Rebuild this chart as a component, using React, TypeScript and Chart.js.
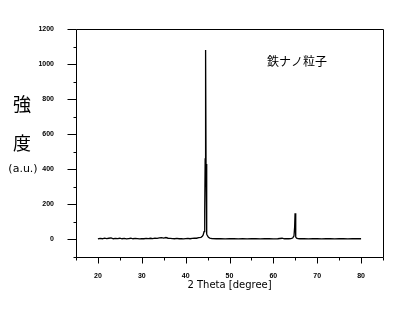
import React, { useEffect, useRef } from 'react';
import { Chart, registerables } from 'chart.js';
Chart.register(...registerables);

const twoTheta = [
  20, 20.5, 21, 21.5, 22, 22.5, 23, 23.5, 24, 24.5, 25, 25.5, 26, 26.5, 27, 27.5, 28, 28.5, 29, 29.5,
  30, 30.5, 31, 31.5, 32, 32.5, 33, 33.5, 34, 34.5, 35, 35.5, 36, 36.5, 37, 37.5, 38, 38.5, 39, 39.5,
  40, 40.5, 41, 41.5, 42, 42.5, 43, 43.5, 43.8, 44.0, 44.2, 44.35, 44.45, 44.55, 44.65, 44.75, 44.85, 45.0,
  45.2, 45.5, 46, 47, 48, 49, 50, 51, 52, 53, 54, 55, 56, 57, 58, 59, 60, 61, 62, 62.5, 63, 63.5, 64, 64.4,
  64.7, 64.85, 64.95, 65.05, 65.15, 65.3, 65.6, 66, 67, 68, 69, 70, 71, 72, 73, 74, 75, 76, 77, 78, 79, 80,
];
const intensity = [
  3, 6, 4, 8, 5, 7, 9, 4, 6, 5, 7, 4, 6, 3, 5, 7, 4, 6, 5, 3,
  5, 4, 6, 5, 7, 5, 8, 6, 9, 10, 8, 11, 7, 6, 5, 4, 6, 4, 5, 3,
  5, 6, 4, 6, 8, 7, 10, 12, 18, 26, 45, 160, 460, 1080, 430, 70, 30, 20,
  12, 8, 5, 4, 4, 3, 4, 4, 3, 4, 3, 4, 4, 3, 4, 4, 3, 4, 7, 4, 5, 4, 5, 8,
  20, 69, 149, 45, 14, 7, 5, 4, 4, 3, 4, 4, 3, 4, 4, 3, 4, 4, 3, 4, 4, 4,
];

const xTicks = [20, 30, 40, 50, 60, 70, 80];
const yTicks = [0, 200, 400, 600, 800, 1000, 1200];
const chartTitle = '鉄ナノ粒子';
const yTitleLines = ['強', '度', '(a.u.)'];
const xTitle = '2 Theta [degree]';

const framePlugin = {
  id: 'frame',
  afterDraw(chart: any) {
    const { ctx, chartArea, scales } = chart;
    const { left, right, top, bottom } = chartArea;
    const x = scales.x;
    const y = scales.y;
    ctx.save();
    ctx.strokeStyle = '#000';
    ctx.lineWidth = 1;
    const L = Math.round(left) + 0.5;
    const R = Math.round(right) + 0.5;
    const T = Math.round(top) + 0.5;
    const B = Math.round(bottom) + 0.5;
    ctx.beginPath();
    ctx.rect(L, T, R - L, B - T);
    ctx.stroke();
    ctx.beginPath();
    for (let v = 15; v <= 85; v += 5) {
      const px = Math.round(x.getPixelForValue(v)) + 0.5;
      const len = v % 10 === 0 ? 6 : 3;
      ctx.moveTo(px, B);
      ctx.lineTo(px, B + len);
    }
    for (let v = -100; v <= 1200; v += 100) {
      const py = Math.round(y.getPixelForValue(v)) + 0.5;
      const len = v % 200 === 0 ? 9 : 3;
      ctx.moveTo(L, py);
      ctx.lineTo(L - len, py);
    }
    ctx.stroke();

    ctx.fillStyle = '#000';
    ctx.textAlign = 'center';
    ctx.textBaseline = 'middle';
    ctx.font = '12px "Noto Sans CJK JP"';
    ctx.fillText(chartTitle, 297, 61);
    ctx.font = '18px "Noto Sans CJK JP"';
    ctx.fillText(yTitleLines[0], 22, 104);
    ctx.fillText(yTitleLines[1], 22, 143);
    ctx.font = '11px "DejaVu Sans"';
    ctx.fillText(yTitleLines[2], 23, 169);
    ctx.restore();
  },
};

export default function App() {
  const ref = useRef<HTMLCanvasElement>(null);
  useEffect(() => {
    if (!ref.current) return;
    const tickFont = { family: '"Liberation Sans"', size: 7, weight: 'bold' as const };
    const chart = new Chart(ref.current, {
      type: 'line',
      data: {
        datasets: [
          {
            data: twoTheta.map((t, i) => ({ x: t, y: intensity[i] })),
            borderColor: '#000',
            borderWidth: 1.3,
            pointRadius: 0,
            tension: 0,
            fill: false,
          },
        ],
      },
      options: {
        animation: false,
        responsive: false,
        layout: { padding: { top: 29, right: 24, bottom: 0, left: 0 } },
        plugins: { legend: { display: false }, tooltip: { enabled: false }, title: { display: false } },
        scales: {
          x: {
            type: 'linear',
            min: 15,
            max: 85,
            afterBuildTicks: (s: any) => {
              s.ticks = xTicks.map((v) => ({ value: v }));
            },
            afterFit: (s: any) => {
              s.height = 58;
            },
            grid: { display: false },
            border: { display: false },
            ticks: { font: tickFont, color: '#000', padding: 7, maxRotation: 0, callback: (v: any) => String(v) },
            title: {
              display: true,
              text: xTitle,
              font: { family: '"DejaVu Sans"', size: 10 },
              color: '#000',
              padding: { top: 0, bottom: 24 },
            },
          },
          y: {
            type: 'linear',
            min: -100,
            max: 1200,
            afterBuildTicks: (s: any) => {
              s.ticks = yTicks.map((v) => ({ value: v }));
            },
            afterFit: (s: any) => {
              s.width = 76;
            },
            grid: { display: false },
            border: { display: false },
            ticks: { font: tickFont, color: '#000', padding: 14, callback: (v: any) => String(v) },
          },
        },
      },
      plugins: [framePlugin],
    });
    return () => chart.destroy();
  }, []);
  return (
    <div style={{ position: 'absolute', left: 0, top: 0, width: 407, height: 315, background: '#fff' }}>
      <canvas ref={ref} width={407} height={315} style={{ display: 'block' }} />
    </div>
  );
}
